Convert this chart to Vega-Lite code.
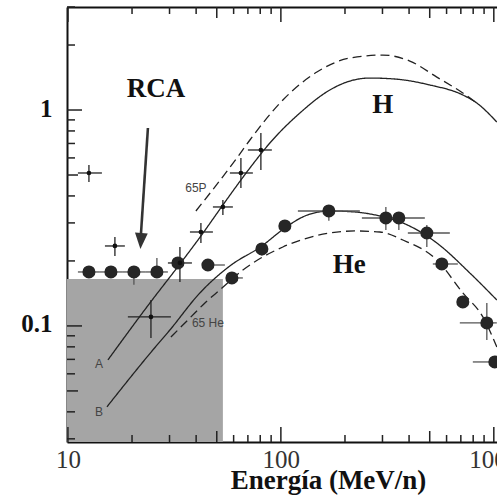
{
  "$schema": "https://vega.github.io/schema/vega-lite/v6.json",
  "autosize": {"type": "none"},
  "padding": {"left": 67, "top": 7, "right": 0, "bottom": 61},
  "width": 430,
  "height": 435,
  "background": "white",
  "config": {
    "view": {"stroke": null},
    "axis": {"grid": false, "domainColor": "#111", "domainWidth": 2, "ticks": false, "zindex": 2, "title": null}
  },
  "resolve": {"axis": {"x": "independent", "y": "independent"}},
  "datasets": {
    "box": [{"x1": 9.9, "x2": 53.42, "y1": 0.029, "y2": 0.1651}],
    "ticksx": [
      {"v": 10, "k": "L"}, {"v": 20, "k": "S"}, {"v": 30, "k": "S"}, {"v": 40, "k": "S"}, {"v": 50, "k": "M"},
      {"v": 60, "k": "S"}, {"v": 70, "k": "S"}, {"v": 80, "k": "S"}, {"v": 90, "k": "S"}, {"v": 100, "k": "L"},
      {"v": 200, "k": "S"}, {"v": 300, "k": "S"}, {"v": 400, "k": "S"}, {"v": 500, "k": "M"}, {"v": 600, "k": "S"},
      {"v": 700, "k": "S"}, {"v": 800, "k": "S"}, {"v": 900, "k": "S"}, {"v": 1000, "k": "L"}
    ],
    "ticksy": [
      {"v": 0.03, "k": "S"}, {"v": 0.04, "k": "S"}, {"v": 0.05, "k": "M"}, {"v": 0.06, "k": "S"}, {"v": 0.07, "k": "S"},
      {"v": 0.08, "k": "S"}, {"v": 0.09, "k": "S"}, {"v": 0.1, "k": "L"}, {"v": 0.2, "k": "S"}, {"v": 0.3, "k": "S"},
      {"v": 0.4, "k": "S"}, {"v": 0.5, "k": "M"}, {"v": 0.6, "k": "S"}, {"v": 0.7, "k": "S"}, {"v": 0.8, "k": "S"},
      {"v": 0.9, "k": "S"}, {"v": 1, "k": "L"}, {"v": 2, "k": "S"}, {"v": 3, "k": "S"}
    ],
    "curves": [
      {"c": "H_A", "s": "solid", "x": 15.41, "y": 0.0696},
      {"c": "H_A", "s": "solid", "x": 24.27, "y": 0.1278},
      {"c": "H_A", "s": "solid", "x": 33.57, "y": 0.1936},
      {"c": "H_A", "s": "solid", "x": 42.12, "y": 0.261},
      {"c": "H_A", "s": "solid", "x": 53.42, "y": 0.3632},
      {"c": "H_A", "s": "solid", "x": 71.54, "y": 0.5388},
      {"c": "H_A", "s": "solid", "x": 88.8, "y": 0.7035},
      {"c": "H_A", "s": "solid", "x": 122.8, "y": 0.9685},
      {"c": "H_A", "s": "solid", "x": 169.8, "y": 1.238},
      {"c": "H_A", "s": "solid", "x": 210.9, "y": 1.362},
      {"c": "H_A", "s": "solid", "x": 261.7, "y": 1.406},
      {"c": "H_A", "s": "solid", "x": 342.9, "y": 1.392},
      {"c": "H_A", "s": "solid", "x": 500.6, "y": 1.306},
      {"c": "H_A", "s": "solid", "x": 715.2, "y": 1.174},
      {"c": "H_A", "s": "solid", "x": 832.2, "y": 1.077},
      {"c": "H_A", "s": "solid", "x": 1033, "y": 0.8799},
      {"c": "H_65P", "s": "dashed", "x": 39.9, "y": 0.3407},
      {"c": "H_65P", "s": "dashed", "x": 62.15, "y": 0.5995},
      {"c": "H_65P", "s": "dashed", "x": 71.54, "y": 0.7263},
      {"c": "H_65P", "s": "dashed", "x": 102.2, "y": 1.113},
      {"c": "H_65P", "s": "dashed", "x": 147.6, "y": 1.499},
      {"c": "H_65P", "s": "dashed", "x": 210.9, "y": 1.741},
      {"c": "H_65P", "s": "dashed", "x": 301.2, "y": 1.797},
      {"c": "H_65P", "s": "dashed", "x": 403.3, "y": 1.686},
      {"c": "H_65P", "s": "dashed", "x": 540, "y": 1.421},
      {"c": "H_65P", "s": "dashed", "x": 715.2, "y": 1.199},
      {"c": "H_65P", "s": "dashed", "x": 832.2, "y": 1.077},
      {"c": "He_B", "s": "solid", "x": 15.25, "y": 0.0422},
      {"c": "He_B", "s": "solid", "x": 25.06, "y": 0.0774},
      {"c": "He_B", "s": "solid", "x": 30.13, "y": 0.0958},
      {"c": "He_B", "s": "solid", "x": 41.67, "y": 0.1422},
      {"c": "He_B", "s": "solid", "x": 57.62, "y": 0.1896},
      {"c": "He_B", "s": "solid", "x": 81.44, "y": 0.2346},
      {"c": "He_B", "s": "solid", "x": 104.4, "y": 0.2842},
      {"c": "He_B", "s": "solid", "x": 129.7, "y": 0.323},
      {"c": "He_B", "s": "solid", "x": 169.8, "y": 0.3407},
      {"c": "He_B", "s": "solid", "x": 222.6, "y": 0.3371},
      {"c": "He_B", "s": "solid", "x": 291.6, "y": 0.323},
      {"c": "He_B", "s": "solid", "x": 374, "y": 0.2998},
      {"c": "He_B", "s": "solid", "x": 540, "y": 0.2422},
      {"c": "He_B", "s": "solid", "x": 771.4, "y": 0.1759},
      {"c": "He_B", "s": "solid", "x": 1033, "y": 0.1319},
      {"c": "He_65", "s": "dashed", "x": 30.45, "y": 0.0889},
      {"c": "He_65", "s": "dashed", "x": 37.41, "y": 0.1089},
      {"c": "He_65", "s": "dashed", "x": 43.98, "y": 0.1278},
      {"c": "He_65", "s": "dashed", "x": 51.72, "y": 0.1468},
      {"c": "He_65", "s": "dashed", "x": 66.32, "y": 0.1816},
      {"c": "He_65", "s": "dashed", "x": 102.2, "y": 0.2321},
      {"c": "He_65", "s": "dashed", "x": 169.8, "y": 0.2694},
      {"c": "He_65", "s": "dashed", "x": 222.6, "y": 0.2753},
      {"c": "He_65", "s": "dashed", "x": 291.6, "y": 0.2723},
      {"c": "He_65", "s": "dashed", "x": 374, "y": 0.25},
      {"c": "He_65", "s": "dashed", "x": 540, "y": 0.2021},
      {"c": "He_65", "s": "dashed", "x": 715.2, "y": 0.1422},
      {"c": "He_65", "s": "dashed", "x": 888.1, "y": 0.1101},
      {"c": "He_65", "s": "dashed", "x": 1033, "y": 0.0799}
    ],
    "hpts": [
      {"x": 12.55, "y": 0.5109, "xlo": 11.14, "xhi": 14.44, "ylo": 0.4642, "yhi": 0.5563},
      {"x": 16.62, "y": 0.2346, "xlo": 14.92, "xhi": 18.51, "ylo": 0.2109, "yhi": 0.2582},
      {"x": 24.54, "y": 0.1101, "xlo": 19.12, "xhi": 30.45, "ylo": 0.088, "yhi": 0.1319},
      {"x": 33.57, "y": 0.1957, "xlo": 29.48, "xhi": 38.22, "ylo": 0.1599, "yhi": 0.2321},
      {"x": 42.12, "y": 0.2723, "xlo": 37.41, "xhi": 47.96, "ylo": 0.2422, "yhi": 0.2998},
      {"x": 53.42, "y": 0.3556, "xlo": 47.96, "xhi": 59.52, "ylo": 0.3265, "yhi": 0.3831},
      {"x": 64.91, "y": 0.5109, "xlo": 57.62, "xhi": 73.88, "ylo": 0.4355, "yhi": 0.5995},
      {"x": 80.56, "y": 0.6529, "xlo": 70.0, "xhi": 90.7, "ylo": 0.5275, "yhi": 0.7824}
    ],
    "hepts": [
      {"x": 12.55, "y": 0.1778, "xlo": 11.14, "xhi": 14.13, "ylo": 0.1778, "yhi": 0.1778},
      {"x": 15.92, "y": 0.1778, "xlo": 14.13, "xhi": 18.12, "ylo": 0.1778, "yhi": 0.1778},
      {"x": 20.41, "y": 0.1778, "xlo": 18.12, "xhi": 23.23, "ylo": 0.155, "yhi": 0.1778},
      {"x": 26.17, "y": 0.1778, "xlo": 23.23, "xhi": 29.48, "ylo": 0.1778, "yhi": 0.2065},
      {"x": 32.85, "y": 0.1957, "xlo": 32.85, "xhi": 32.85, "ylo": 0.1957, "yhi": 0.1957},
      {"x": 45.43, "y": 0.1915, "xlo": 45.43, "xhi": 54.59, "ylo": 0.1915, "yhi": 0.1915},
      {"x": 58.88, "y": 0.1668, "xlo": 58.88, "xhi": 66.3, "ylo": 0.1668, "yhi": 0.1668},
      {"x": 81.44, "y": 0.2272, "xlo": 81.44, "xhi": 81.44, "ylo": 0.2121, "yhi": 0.2421},
      {"x": 104.4, "y": 0.2904, "xlo": 104.4, "xhi": 104.4, "ylo": 0.2904, "yhi": 0.2904},
      {"x": 168.0, "y": 0.3407, "xlo": 120.2, "xhi": 234.9, "ylo": 0.3071, "yhi": 0.3632},
      {"x": 311.2, "y": 0.3162, "xlo": 240.1, "xhi": 474.3, "ylo": 0.2785, "yhi": 0.3556},
      {"x": 358.1, "y": 0.3162, "xlo": 358.1, "xhi": 358.1, "ylo": 0.2785, "yhi": 0.3162},
      {"x": 484.6, "y": 0.2694, "xlo": 394.7, "xhi": 621.5, "ylo": 0.2321, "yhi": 0.2935},
      {"x": 570.0, "y": 0.1936, "xlo": 517.1, "xhi": 677.6, "ylo": 0.1936, "yhi": 0.1936},
      {"x": 715.2, "y": 0.1292, "xlo": 715.2, "xhi": 715.2, "ylo": 0.1292, "yhi": 0.1292},
      {"x": 927.2, "y": 0.1032, "xlo": 692.4, "xhi": 1033, "ylo": 0.0861, "yhi": 0.1278},
      {"x": 1011, "y": 0.0681, "xlo": 797, "xhi": 1033, "ylo": 0.0681, "yhi": 0.0681}
    ],
    "bigtext": [
      {"x": 25.89, "y": 1.149, "t": "RCA"},
      {"x": 301.2, "y": 0.9685, "t": "H"},
      {"x": 209.7, "y": 0.1759, "t": "He"}
    ],
    "smalltext": [
      {"x": 39.9, "y": 0.4355, "t": "65P"},
      {"x": 45.43, "y": 0.1032, "t": "65 He"},
      {"x": 13.98, "y": 0.0667, "t": "A"},
      {"x": 13.98, "y": 0.04, "t": "B"}
    ],
    "arrow": [{"x": 23.75, "y": 0.8254, "x2": 22.01, "y2": 0.2638, "hx": 22.01, "hy": 0.2474}]
  },
  "layer": [
    {
      "data": {"name": "box"},
      "mark": {"type": "rect", "fill": "#a5a5a5"},
      "encoding": {
        "x": {"field": "x1", "type": "quantitative",
          "scale": {"type": "log", "domain": [9.9, 1035], "nice": false},
          "axis": {
            "orient": "bottom", "values": [10, 100, 1000],
            "labelExpr": "datum.value == 10 ? '10' : datum.value == 100 ? '100' : '1000'",
            "labelFont": "Liberation Serif", "labelFontSize": 25, "labelColor": "#333",
            "labelBound": false, "labelFlush": false, "labelOverlap": false,
            "labelPadding": 5, "labelBaseline": "top",
            "title": "Energía (MeV/n)",
            "titleFont": "Liberation Serif", "titleFontWeight": "bold", "titleFontSize": 27, "titleColor": "#111",
            "titleX": 261, "titleY": 46, "titleBaseline": "alphabetic", "titleAlign": "center"
          }
        },
        "x2": {"field": "x2"},
        "y": {"field": "y1", "type": "quantitative",
          "scale": {"type": "log", "domain": [0.029, 3.0], "nice": false},
          "axis": {
            "orient": "left", "values": [0.1, 1],
            "labelExpr": "datum.value == 1 ? '1' : '0.1'",
            "labelFont": "Liberation Serif", "labelFontSize": 25, "labelFontWeight": "bold", "labelColor": "#111",
            "labelBound": false, "labelFlush": false, "labelOverlap": false,
            "labelPadding": 15, "labelOffset": -2
          }
        },
        "y2": {"field": "y2"}
      }
    },
    {
      "data": {"name": "curves"},
      "mark": {"type": "line", "stroke": "#222", "strokeWidth": 1.3, "clip": true, "interpolate": "monotone"},
      "encoding": {
        "x": {"field": "x", "type": "quantitative",
          "axis": {"orient": "top", "values": [10, 100, 1000], "labels": false}},
        "y": {"field": "y", "type": "quantitative", "axis": null},
        "detail": {"field": "c"},
        "strokeDash": {"field": "s", "type": "nominal", "scale": {"domain": ["solid", "dashed"], "range": [[1, 0], [9, 5]]}, "legend": null}
      }
    },
    {
      "data": {"name": "hepts"},
      "mark": {"type": "rule", "stroke": "#555", "strokeWidth": 1.3},
      "encoding": {
        "x": {"field": "xlo", "type": "quantitative", "axis": null},
        "x2": {"field": "xhi"},
        "y": {"field": "y", "type": "quantitative", "axis": null}
      }
    },
    {
      "data": {"name": "hepts"},
      "mark": {"type": "rule", "stroke": "#555", "strokeWidth": 1.3},
      "encoding": {
        "x": {"field": "x", "type": "quantitative", "axis": null},
        "y": {"field": "ylo", "type": "quantitative", "axis": null},
        "y2": {"field": "yhi"}
      }
    },
    {
      "data": {"name": "hpts"},
      "mark": {"type": "rule", "stroke": "#222", "strokeWidth": 1.3},
      "encoding": {
        "x": {"field": "xlo", "type": "quantitative", "axis": null},
        "x2": {"field": "xhi"},
        "y": {"field": "y", "type": "quantitative", "axis": null}
      }
    },
    {
      "data": {"name": "hpts"},
      "mark": {"type": "rule", "stroke": "#222", "strokeWidth": 1.3},
      "encoding": {
        "x": {"field": "x", "type": "quantitative", "axis": null},
        "y": {"field": "ylo", "type": "quantitative", "axis": null},
        "y2": {"field": "yhi"}
      }
    },
    {
      "data": {"name": "hepts"},
      "mark": {"type": "circle", "fill": "#262626", "opacity": 1, "size": 170, "clip": true},
      "encoding": {
        "x": {"field": "x", "type": "quantitative", "axis": null},
        "y": {"field": "y", "type": "quantitative", "axis": null}
      }
    },
    {
      "data": {"name": "hpts"},
      "mark": {"type": "circle", "fill": "#111", "opacity": 1, "size": 22},
      "encoding": {
        "x": {"field": "x", "type": "quantitative", "axis": null},
        "y": {"field": "y", "type": "quantitative", "axis": null}
      }
    },
    {
      "data": {"name": "arrow"},
      "mark": {"type": "rule", "stroke": "#333", "strokeWidth": 2.6},
      "encoding": {
        "x": {"field": "x", "type": "quantitative", "axis": null},
        "y": {"field": "y", "type": "quantitative", "axis": null},
        "x2": {"field": "x2"},
        "y2": {"field": "y2"}
      }
    },
    {
      "data": {"name": "arrow"},
      "mark": {"type": "point", "shape": "M-0.8,-1L0.8,-1L0,1Z", "filled": true, "fill": "#333", "opacity": 1, "size": 256, "angle": 3.4},
      "encoding": {
        "x": {"field": "hx", "type": "quantitative", "axis": null},
        "y": {"field": "hy", "type": "quantitative", "axis": null}
      }
    },
    {
      "data": {"name": "ticksx"},
      "transform": [{"filter": "datum.k == 'L'"}],
      "mark": {"type": "rule", "stroke": "#222", "strokeWidth": 1.5, "strokeDash": [15, 405, 15]},
      "encoding": {
        "x": {"field": "v", "type": "quantitative", "axis": null}
      }
    },
    {
      "data": {"name": "ticksx"},
      "transform": [{"filter": "datum.k == 'M'"}],
      "mark": {"type": "rule", "stroke": "#222", "strokeWidth": 1.5, "strokeDash": [11, 413, 11]},
      "encoding": {
        "x": {"field": "v", "type": "quantitative", "axis": null}
      }
    },
    {
      "data": {"name": "ticksx"},
      "transform": [{"filter": "datum.k == 'S'"}],
      "mark": {"type": "rule", "stroke": "#222", "strokeWidth": 1.5, "strokeDash": [7, 421, 7]},
      "encoding": {
        "x": {"field": "v", "type": "quantitative", "axis": null}
      }
    },
    {
      "data": {"name": "ticksy"},
      "transform": [{"filter": "datum.k == 'L'"}],
      "mark": {"type": "rule", "stroke": "#222", "strokeWidth": 1.5, "x2Offset": 15},
      "encoding": {
        "y": {"field": "v", "type": "quantitative", "axis": null},
        "x": {"datum": 9.9, "type": "quantitative", "axis": null},
        "x2": {"datum": 9.9}
      }
    },
    {
      "data": {"name": "ticksy"},
      "transform": [{"filter": "datum.k == 'M'"}],
      "mark": {"type": "rule", "stroke": "#222", "strokeWidth": 1.5, "x2Offset": 11},
      "encoding": {
        "y": {"field": "v", "type": "quantitative", "axis": null},
        "x": {"datum": 9.9, "type": "quantitative", "axis": null},
        "x2": {"datum": 9.9}
      }
    },
    {
      "data": {"name": "ticksy"},
      "transform": [{"filter": "datum.k == 'S'"}],
      "mark": {"type": "rule", "stroke": "#222", "strokeWidth": 1.5, "x2Offset": 8},
      "encoding": {
        "y": {"field": "v", "type": "quantitative", "axis": null},
        "x": {"datum": 9.9, "type": "quantitative", "axis": null},
        "x2": {"datum": 9.9}
      }
    },
    {
      "data": {"name": "bigtext"},
      "mark": {"type": "text", "font": "Liberation Serif", "fontWeight": "bold", "fontSize": 27, "fill": "#111", "align": "center", "baseline": "alphabetic"},
      "encoding": {
        "x": {"field": "x", "type": "quantitative", "axis": null},
        "y": {"field": "y", "type": "quantitative", "axis": null},
        "text": {"field": "t"}
      }
    },
    {
      "data": {"name": "smalltext"},
      "mark": {"type": "text", "font": "Liberation Sans", "fontSize": 12, "fill": "#444", "align": "center", "baseline": "middle"},
      "encoding": {
        "x": {"field": "x", "type": "quantitative", "axis": null},
        "y": {"field": "y", "type": "quantitative", "axis": null},
        "text": {"field": "t"}
      }
    }
  ]
}
